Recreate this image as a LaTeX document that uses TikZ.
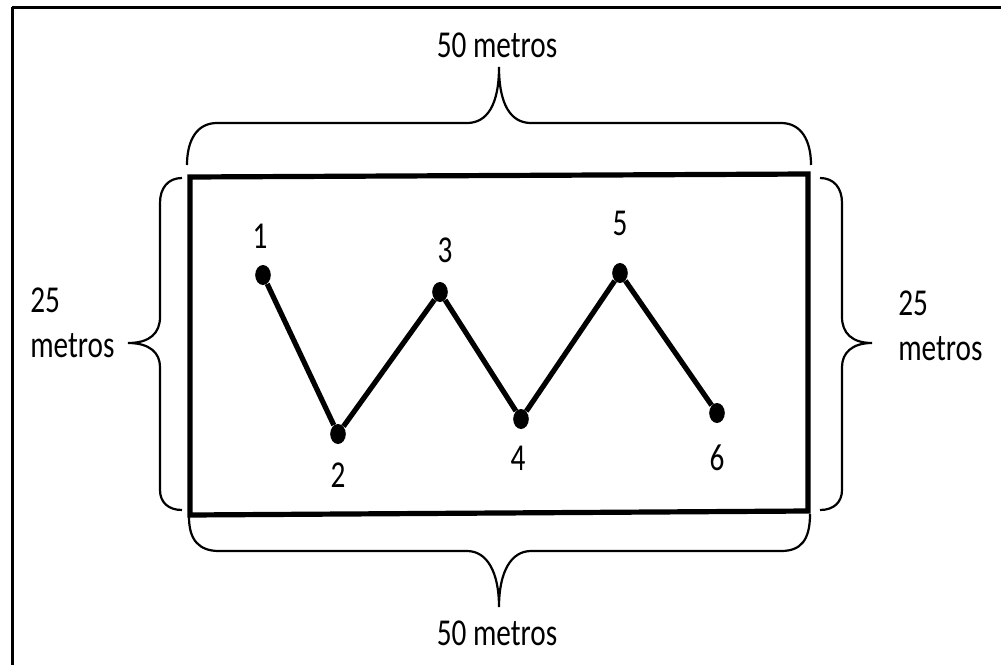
\documentclass[tikz,border=0pt]{standalone}
\usepackage{fontspec}
\setmainfont{Carlito}
\usetikzlibrary{positioning}
\tikzset{
  lbl/.style={font=\fontsize{19}{22.5}\selectfont,inner sep=0pt,xscale=0.77},
  pnt/.style={circle,fill=black,inner sep=0pt,minimum size=10pt,xscale=0.78},
  zig/.style={line width=2.6pt,line join=round},
  field/.style={line width=2.6pt,line join=miter},
  brc/.style={line width=1.1pt},
  frame/.style={line width=1.5pt}
}
\begin{document}
\begin{tikzpicture}[x=0.5pt,y=-0.5pt]
  \useasboundingbox (0,0) rectangle (1001,664);
  % outer frame (cut at the right and bottom)
  \draw[frame] (12,7) -- (1020,7) (12,7) -- (12,690);

  % field
  \coordinate (nw) at (190,177);
  \coordinate (ne) at (808,174);
  \coordinate (se) at (808,511);
  \coordinate (sw) at (190,515);
  \draw[field] (nw) -- (ne) -- (se) -- (sw) -- cycle;

  % braces
  \draw[brc] (187,165) .. controls (187,140) and (197,123) .. (217,123) -- (467,123)
    .. controls (487,123) and (499,105) .. (499,67)
    .. controls (499,105) and (511,123) .. (531,123) -- (781,123)
    .. controls (801,123) and (811,140) .. (811,165);
  \draw[brc] (189,517) .. controls (189,540) and (199,551) .. (219,551) -- (467,551)
    .. controls (487,551) and (499,572) .. (499,607)
    .. controls (499,572) and (511,551) .. (531,551) -- (781,551)
    .. controls (801,551) and (810,540) .. (810,514);
  \draw[brc] (182,178) .. controls (168,178) and (160,188) .. (160,203) -- (160,317)
    .. controls (160,333) and (150,343) .. (128,343)
    .. controls (150,343) and (160,353) .. (160,367) -- (160,490)
    .. controls (160,502) and (168,510) .. (182,510);
  \draw[brc] (820,178) .. controls (834,178) and (842,188) .. (842,203) -- (842,317)
    .. controls (842,333) and (852,343) .. (872,343)
    .. controls (852,343) and (842,353) .. (842,367) -- (842,490)
    .. controls (842,502) and (834,510) .. (820,510);

  % measures
  \node[lbl,anchor=base] (top) at (497,57) {50 metros};
  \node[lbl,anchor=base] (bottom) at (497,645) {50 metros};
  \node[lbl,anchor=base west,align=left] (left) at (30,357) {25\\metros};
  \node[lbl,anchor=base west,align=left] (right) at (898,360) {25\\metros};

  % points of the route
  \foreach \n/\x/\y in {1/263/275,2/338/434,3/440/292,4/521/419,5/620/273,6/717/413}
    \node[pnt] (p\n) at (\x,\y) {};
  \draw[zig] (p1) -- (p2) -- (p3) -- (p4) -- (p5) -- (p6);

  % numbers
  \foreach \n/\x/\y in {1/260/248,2/338/487,3/445/262,4/518/470,5/620/235,6/717/470}
    \node[lbl,anchor=base] (n\n) at (\x,\y) {\n};
\end{tikzpicture}
\end{document}
